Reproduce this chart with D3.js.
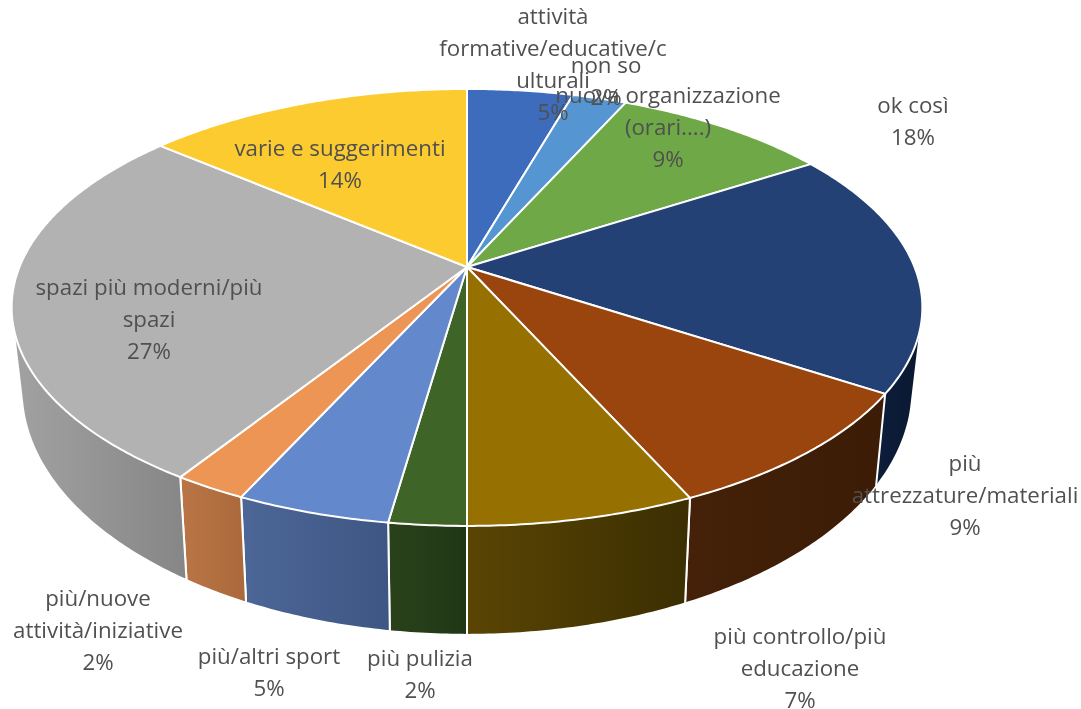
<!DOCTYPE html>
<html>
<head>
    <meta charset="utf-8">
    <title>Pie 3D</title>
    <script src="https://cdnjs.cloudflare.com/ajax/libs/d3/7.8.5/d3.min.js"></script>
    <style>
        html, body { margin: 0; background: #fff; }
        svg { display: block; filter: blur(0.45px); }
        text { font-family: "Open Sans", sans-serif; font-size: 22.3px; fill: #505050; }
    </style>
</head>

<body>

<script type="text/javascript">
    // share of each slice, clockwise from 12 o'clock
    var values = [4.5, 2.3, 9.2, 18.1, 9.1, 6.8, 2.3, 4.6, 2.2, 27, 13.9];

    var labels = [
        ["attività", "formative/educative/c", "ulturali", "5%"],
        ["non so", "2%"],
        ["nuova organizzazione", "(orari....)", "9%"],
        ["ok così", "18%"],
        ["più", "attrezzature/materiali", "9%"],
        ["più controllo/più", "educazione", "7%"],
        ["più pulizia", "2%"],
        ["più/altri sport", "5%"],
        ["più/nuove", "attività/iniziative", "2%"],
        ["spazi più moderni/più", "spazi", "27%"],
        ["varie e suggerimenti", "14%"]
    ];

    var topColors = ["#3e6cbd", "#5596d2", "#6ea847", "#234175", "#9a440e", "#967000",
                     "#3f6427", "#6488cc", "#ec9555", "#b2b2b2", "#fccb2f"];
    var wallFrom = ["#26416f", "#335a7e", "#42642a", "#0d1e3c", "#442108", "#5a4503",
                    "#2a421b", "#4c6697", "#b97545", "#a2a2a2", "#977a1c"];
    var wallTo = ["#26416f", "#335a7e", "#42642a", "#0a1830", "#3c1c06", "#3b2e02",
                  "#203716", "#3e5683", "#ab693b", "#868686", "#977a1c"];

    // where each label's first line sits, moved by hand in the original
    var labelX = [553, 606, 668, 913, 965, 800, 420, 269, 98, 149, 340];
    var labelY = [15, 64, 94, 104, 462, 635, 657, 655, 597, 286, 147];
    var lineHeight = 32;

    var width = 1081,
        height = 709,
        cx = 467,
        cy = 267,
        rx = 447.5,
        ry = 211,
        persp = 0.185;

    var svg = d3.select("body").append("svg")
        .attr("width", width)
        .attr("height", height);

    var defs = svg.append("defs");

    // the rim is the top ring pulled in and moved down
    var rimX = d3.scaleLinear().domain([cx - 100, cx + 100]).range([cx - 97.8, cx + 97.8]);
    var rimY = d3.scaleLinear().domain([395, 526]).range([488, 635]);

    function project(a) {
        var x = Math.sin(a), y = -Math.cos(a), d = 1 - persp * y;
        return [cx + rx * x / d, cy + ry * y / d];
    }

    function projectRim(a) {
        var p = project(a);
        return [rimX(p[0]), rimY(p[1])];
    }

    function ring(a0, a1, fn) {
        var n = Math.max(2, Math.ceil((a1 - a0) / 0.01));
        return d3.range(n + 1).map(function(i) {
            return fn(a0 + (a1 - a0) * i / n);
        });
    }

    var line = d3.line();

    var slices = d3.pie().sort(null)(values);

    // only the front part of the wall shows
    var frontFrom = 75 * Math.PI / 180,
        frontTo = 285 * Math.PI / 180;

    function wallPath(s) {
        var a0 = Math.max(s.startAngle, frontFrom),
            a1 = Math.min(s.endAngle, frontTo);
        if (a1 <= a0) return null;
        var hull = d3.polygonHull(ring(a0, a1, project).concat(ring(a0, a1, projectRim)));
        return line(hull) + "Z";
    }

    slices.forEach(function(s, i) {
        var grad = defs.append("linearGradient").attr("id", "wall" + i);
        grad.append("stop").attr("offset", 0).attr("stop-color", wallFrom[i]);
        grad.append("stop").attr("offset", 1).attr("stop-color", wallTo[i]);
    });

    svg.append("g").selectAll("path")
        .data(slices)
        .join("path")
        .attr("d", wallPath)
        .attr("fill", function(s, i) { return "url(#wall" + i + ")"; })
        .attr("stroke", "#fff")
        .attr("stroke-width", 2)
        .attr("stroke-linejoin", "round");

    svg.append("g").selectAll("path")
        .data(slices)
        .join("path")
        .attr("d", function(s) {
            return line([[cx, cy]].concat(ring(s.startAngle, s.endAngle, project))) + "Z";
        })
        .attr("fill", function(s, i) { return topColors[i]; })
        .attr("stroke", "#fff")
        .attr("stroke-width", 2)
        .attr("stroke-linejoin", "round");

    var label = svg.append("g").selectAll("text")
        .data(labels)
        .join("text")
        .attr("text-anchor", "middle")
        .attr("y", function(d, i) { return labelY[i]; });

    label.selectAll("tspan")
        .data(function(d, i) {
            return d.map(function(t, j) {
                return {text: t, x: labelX[i], y: labelY[i] + j * lineHeight};
            });
        })
        .join("tspan")
        .attr("x", function(d) { return d.x; })
        .attr("y", function(d) { return d.y; })
        .attr("dominant-baseline", "central")
        .text(function(d) { return d.text; });
</script>

</body>

</html>
